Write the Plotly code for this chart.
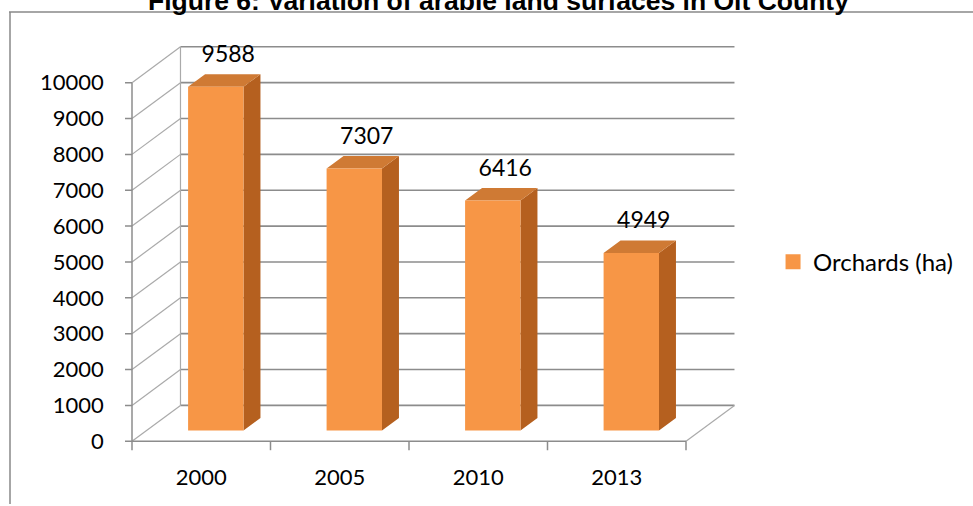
import plotly.graph_objects as go

# ---------------- data ----------------
years = ["2000", "2005", "2010", "2013"]
orchards = [9588, 7307, 6416, 4949]
y_tick_values = [0, 1000, 2000, 3000, 4000, 5000, 6000, 7000, 8000, 9000, 10000]
series_name = "Orchards (ha)"
title_text = "Figure 6: Variation of arable land surfaces in Olt County"

# ---------------- style (3D look) ----------------
DX = 0.35      # depth offset in category units
DY = 1000      # depth offset in value units
F0, F1 = 0.30, 0.65   # bar front / back depth fraction
HW = 0.2       # bar half width (category units)
FRONT = "#F79646"
SIDE = "#B5601F"
TOP = "#CF7A34"
GRID = "#8C8C8C"
WALL = "#AAAAAA"
FONT = "Lato, Carlito, Calibri, sans-serif"

n = len(years)
ymax = y_tick_values[-1]
x_left, x_right = -0.5, n - 0.5

fig = go.Figure()

# back wall grid lines
gx, gy = [], []
for v in y_tick_values:
    gx += [x_left + DX, x_right + DX, None]
    gy += [v + DY, v + DY, None]
fig.add_trace(go.Scatter(x=gx, y=gy, mode="lines", line=dict(color=GRID, width=1.6),
                         hoverinfo="skip", showlegend=False))

# left wall diagonals and floor
wx, wy = [], []
for v in y_tick_values:
    wx += [x_left, x_left + DX, None]
    wy += [v, v + DY, None]
wx += [x_left + DX, x_left + DX, None]
wy += [DY, ymax + DY, None]
wx += [x_right, x_right + DX, None]
wy += [0, DY, None]
fig.add_trace(go.Scatter(x=wx, y=wy, mode="lines", line=dict(color=WALL, width=1.2),
                         hoverinfo="skip", showlegend=False))

# front axes and tick marks
ax, ay = [x_left, x_left, None, x_left, x_right, None], [0, ymax, None, 0, 0, None]
tick_len_x = 7 / 138.5
for v in y_tick_values:
    ax += [x_left - tick_len_x, x_left, None]
    ay += [v, v, None]
for k in range(n + 1):
    ax += [x_left + k, x_left + k, None]
    ay += [0, -250, None]
fig.add_trace(go.Scatter(x=ax, y=ay, mode="lines", line=dict(color=GRID, width=1.5),
                         hoverinfo="skip", showlegend=False))

# bars as 3D prisms
fx, fy, sx, sy, tx, ty = [], [], [], [], [], []
for i, v in enumerate(orchards):
    xl = i + F0 * DX - HW
    xr = i + F0 * DX + HW
    b0 = F0 * DY
    ddx = (F1 - F0) * DX
    ddy = (F1 - F0) * DY
    fx += [xl, xr, xr, xl, xl, None]
    fy += [b0, b0, v + b0, v + b0, b0, None]
    sx += [xr, xr + ddx, xr + ddx, xr, xr, None]
    sy += [b0, b0 + ddy, v + b0 + ddy, v + b0, b0, None]
    tx += [xl, xr, xr + ddx, xl + ddx, xl, None]
    ty += [v + b0, v + b0, v + b0 + ddy, v + b0 + ddy, v + b0, None]

for xs, ys, col in [(sx, sy, SIDE), (tx, ty, TOP), (fx, fy, FRONT)]:
    fig.add_trace(go.Scatter(x=xs, y=ys, mode="lines", fill="toself", fillcolor=col,
                             line=dict(width=0, color=col), hoverinfo="skip",
                             showlegend=False))

# data labels
fig.add_trace(go.Scatter(
    x=[i + 0.195 for i in range(n)], y=[v + 1150 for v in orchards],
    mode="text", text=[str(v) for v in orchards],
    textfont=dict(family=FONT, size=23, color="#000000"),
    cliponaxis=False, hoverinfo="skip", showlegend=False))

# legend entry
fig.add_trace(go.Scatter(x=[None], y=[None], mode="markers", name=series_name,
                         marker=dict(symbol="square", size=15, color=FRONT)))

W, H = 973, 506
px_per_cat = 138.5
px_per_unit = 0.036
xr0, xr1 = -0.56, 3.87
yr0, yr1 = -300, 11200
x_dom0 = (132 - (x_left - xr0) * px_per_cat) / W
x_dom1 = x_dom0 + (xr1 - xr0) * px_per_cat / W
y_dom0 = (H - (443 + (0 - yr0) * px_per_unit)) / H
y_dom1 = (H - (443 - yr1 * px_per_unit)) / H

fig.update_layout(
    width=W, height=H,
    margin=dict(l=0, r=0, t=0, b=0),
    paper_bgcolor="white", plot_bgcolor="rgba(0,0,0,0)",
    font=dict(family=FONT, size=22, color="#000000"),
    xaxis=dict(domain=[x_dom0, x_dom1], range=[xr0, xr1], showgrid=False, zeroline=False,
               showline=False, tickmode="array", tickvals=list(range(n)), ticktext=years,
               ticks="", ticklabelstandoff=10, tickfont=dict(family=FONT, size=22)),
    yaxis=dict(domain=[y_dom0, y_dom1], range=[yr0, yr1], showgrid=False, zeroline=False,
               showline=False, tickmode="array", tickvals=y_tick_values,
               ticktext=[str(v) for v in y_tick_values], ticks="",
               ticklabelstandoff=19, tickfont=dict(family=FONT, size=22)),
    legend=dict(x=0.7945, y=0.48, xanchor="left", yanchor="middle",
                font=dict(family=FONT, size=24), bgcolor="rgba(0,0,0,0)"),
    shapes=[
        dict(type="line", xref="paper", yref="paper", x0=9 / W, x1=1, y0=(H - 12) / H,
             y1=(H - 12) / H, line=dict(color="#888888", width=1.5)),
        dict(type="line", xref="paper", yref="paper", x0=10 / W, x1=10 / W, y0=0,
             y1=(H - 12) / H, line=dict(color="#888888", width=1.5)),
    ],
    annotations=[dict(text="<b>" + title_text + "</b>", xref="paper", yref="paper",
                      x=498 / W, y=(H - 1) / H, xanchor="center", yanchor="middle",
                      showarrow=False,
                      font=dict(family="Liberation Sans, Arial, sans-serif", size=26.5,
                                color="#000000"))],
)

fig.write_html("out.html", config={"displayModeBar": False},
               post_script="document.body.style.margin='0';document.body.style.overflow='hidden';")
